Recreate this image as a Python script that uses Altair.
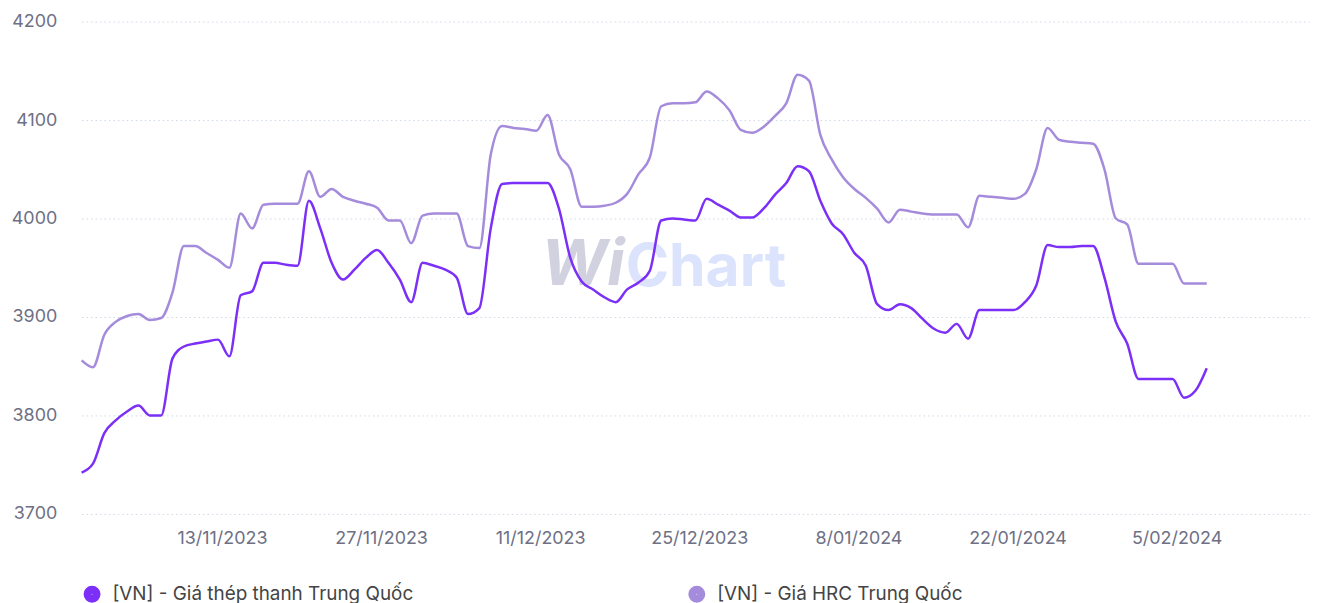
import altair as alt
import pandas as pd

dates = pd.date_range("2023-11-01", periods=100, freq="D")

thep_thanh = [3742, 3751, 3782, 3795, 3804, 3810, 3800, 3800, 3858, 3870,
              3873, 3875, 3877, 3860, 3922, 3926, 3955, 3955, 3953, 3952,
              4018, 3990, 3955, 3938, 3948, 3960, 3968, 3955, 3938, 3915,
              3955, 3952, 3948, 3940, 3903, 3909, 3990, 4035, 4036, 4036,
              4036, 4036, 4010, 3960, 3936, 3928, 3920, 3915, 3928, 3935,
              3947, 3998, 4000, 3999, 3998, 4020, 4014, 4008, 4001, 4001,
              4010, 4024, 4036, 4053, 4048, 4018, 3995, 3984, 3965, 3952,
              3913, 3907, 3913, 3909, 3898, 3888, 3884, 3893, 3878, 3907,
              3907, 3907, 3907, 3915, 3932, 3973, 3971, 3971, 3972, 3972,
              3940, 3895, 3873, 3837, 3837, 3837, 3837, 3818, 3825, 3848]

hrc = [3856, 3849, 3882, 3895, 3901, 3903, 3897, 3899, 3925, 3972,
       3972, 3965, 3958, 3950, 4005, 3990, 4014, 4015, 4015, 4015,
       4048, 4022, 4030, 4022, 4018, 4015, 4011, 3998, 3998, 3975,
       4003, 4005, 4005, 4005, 3972, 3970, 4065, 4094, 4092, 4091,
       4089, 4105, 4065, 4050, 4012, 4012, 4013, 4016, 4025, 4045,
       4062, 4114, 4117, 4117, 4118, 4129, 4122, 4110, 4090, 4087,
       4093, 4104, 4117, 4146, 4140, 4085, 4060, 4042, 4030, 4021,
       4010, 3996, 4009, 4007, 4005, 4004, 4004, 4004, 3991, 4023,
       4022, 4021, 4020, 4025, 4050, 4092, 4080, 4078, 4077, 4076,
       4050, 4000, 3994, 3954, 3954, 3954, 3954, 3934, 3934, 3934]

series_names = ["[VN] - Giá thép thanh Trung Quốc", "[VN] - Giá HRC Trung Quốc"]
series_colors = ["#7b2ff7", "#a58bdc"]

tick_dates = ["2023-11-13", "2023-11-27", "2023-12-11", "2023-12-25",
              "2024-01-08", "2024-01-22", "2024-02-05"]
x_domain = ["2023-11-01", "2024-02-17"]
y_ticks = [3700, 3800, 3900, 4000, 4100, 4200]

rows = []
for name, vals in zip(series_names, [thep_thanh, hrc]):
    for d, v in zip(dates, vals):
        rows.append({"date": d.strftime("%Y-%m-%dT00:00:00"), "value": v, "series": name})
df = pd.DataFrame(rows)

font = "Inter"
label_color = "#6e7085"

lines = alt.Chart(df).mark_line(interpolate="monotone", strokeWidth=2.5).encode(
    x=alt.X("date:T",
            scale=alt.Scale(domain=[d + "T00:00:00" for d in x_domain]),
            axis=alt.Axis(values=[d + "T00:00:00" for d in tick_dates],
                          format="%-d/%m/%Y", title=None, grid=False,
                          domain=False, ticks=False, labelPadding=16,
                          labelOffset=4,
                          labelFontSize=18, labelColor=label_color, labelFont=font)),
    y=alt.Y("value:Q",
            scale=alt.Scale(domain=[3700, 4200], nice=False, zero=False),
            axis=alt.Axis(values=y_ticks, format="d", title=None, domain=False, ticks=False,
                          labelPadding=25, labelFontSize=18, labelColor=label_color,
                          labelFont=font, gridColor="#cfd8e8",
                          gridDash=[1.5, 3], gridWidth=1)),
    color=alt.Color("series:N",
                    scale=alt.Scale(domain=series_names, range=series_colors),
                    legend=alt.Legend(title=None, orient="none", legendX=1, legendY=566,
                                      direction="horizontal", columns=2,
                                      symbolType="circle", symbolSize=64,
                                      symbolStrokeWidth=9, labelFontSize=19,
                                      labelColor="#444444", labelFont=font,
                                      labelOffset=11, columnPadding=262,
                                      labelLimit=600)),
)

wm_wi = alt.Chart(pd.DataFrame({"t": ["Wi"]})).mark_text(
    fontSize=64, fontWeight="bold", font=font, color="#b9b9cf", opacity=0.65,
    align="left", baseline="alphabetic", fontStyle="italic"
).encode(text="t:N", x=alt.value(462), y=alt.value(265))

wm_chart = alt.Chart(pd.DataFrame({"t": ["Chart"]})).mark_text(
    fontSize=59, fontWeight="bold", font=font, color="#c9d6fb", opacity=0.65,
    align="left", baseline="alphabetic"
).encode(text="t:N", x=alt.value(547), y=alt.value(266))

chart = alt.layer(wm_wi, wm_chart, lines).properties(
    width=1234, height=495,
    padding={"left": 3, "top": 3, "right": 5, "bottom": 0}
).configure_view(stroke=None)

chart.save("out.html", embed_options={"renderer": "svg", "actions": False})
